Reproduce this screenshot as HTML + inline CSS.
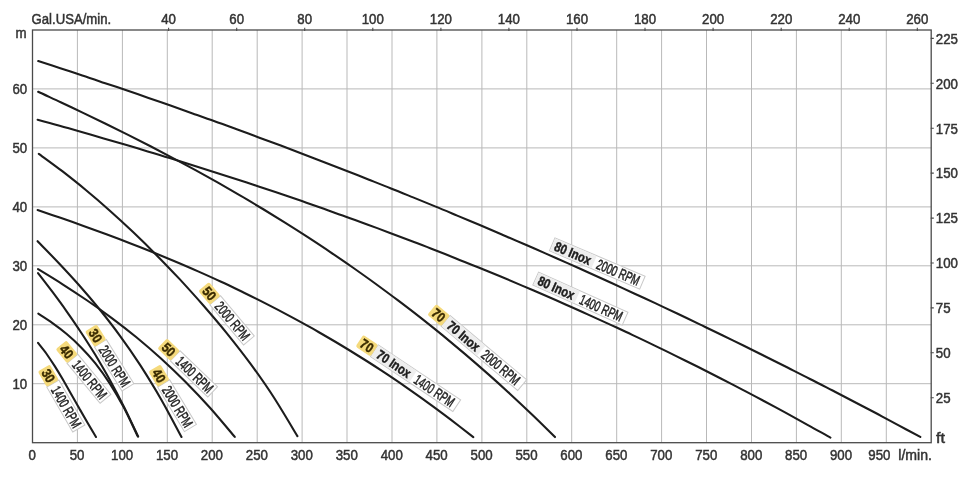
<!DOCTYPE html>
<html><head><meta charset="utf-8"><title>Pump performance curves</title>
<style>
html,body{margin:0;padding:0;background:#fff;}
body{width:970px;height:478px;overflow:hidden;font-family:"Liberation Sans",sans-serif;}
svg{display:block;transform:translateZ(0);will-change:transform;filter:blur(0.3px);}
</style></head><body>
<svg width="970" height="478" viewBox="0 0 970 478">
<rect width="970" height="478" fill="#fff"/>
<path d="M77.4 30.0 V442.7M122.4 30.0 V442.7M167.3 30.0 V442.7M212.2 30.0 V442.7M257.2 30.0 V442.7M302.1 30.0 V442.7M347.0 30.0 V442.7M392.0 30.0 V442.7M436.9 30.0 V442.7M481.9 30.0 V442.7M526.8 30.0 V442.7M571.7 30.0 V442.7M616.7 30.0 V442.7M661.6 30.0 V442.7M706.5 30.0 V442.7M751.5 30.0 V442.7M796.4 30.0 V442.7M841.3 30.0 V442.7M886.3 30.0 V442.7M32.5 383.7 H931.2M32.5 324.8 H931.2M32.5 265.8 H931.2M32.5 206.9 H931.2M32.5 147.9 H931.2M32.5 88.9 H931.2" stroke="#b9b9b9" stroke-width="1" fill="none"/>
<rect x="32.5" y="30.0" width="898.7" height="412.7" fill="none" stroke="#4a4a4a" stroke-width="1.3"/>
<path d="M168.6 27.8 V31.0M236.7 27.8 V31.0M304.7 27.8 V31.0M372.8 27.8 V31.0M440.9 27.8 V31.0M508.9 27.8 V31.0M577.0 27.8 V31.0M645.0 27.8 V31.0M713.1 27.8 V31.0M781.2 27.8 V31.0M849.2 27.8 V31.0M917.3 27.8 V31.0M930.7 397.8 H933.8M930.7 352.8 H933.8M930.7 307.9 H933.8M930.7 263.0 H933.8M930.7 218.1 H933.8M930.7 173.1 H933.8M930.7 128.2 H933.8M930.7 83.3 H933.8M930.7 38.4 H933.8" stroke="#4a4a4a" stroke-width="1.1" fill="none"/>
<g font-family="'Liberation Sans', sans-serif" stroke="#333" stroke-width="0.5">
<text transform="translate(31.6 24.0) scale(0.876 1)" text-anchor="start" font-size="15" fill="#333">Gal.USA/min.</text>
<text transform="translate(168.6 24.0) scale(0.885 1)" text-anchor="middle" font-size="15" fill="#333">40</text>
<text transform="translate(236.7 24.0) scale(0.885 1)" text-anchor="middle" font-size="15" fill="#333">60</text>
<text transform="translate(304.7 24.0) scale(0.885 1)" text-anchor="middle" font-size="15" fill="#333">80</text>
<text transform="translate(372.8 24.0) scale(0.885 1)" text-anchor="middle" font-size="15" fill="#333">100</text>
<text transform="translate(440.9 24.0) scale(0.885 1)" text-anchor="middle" font-size="15" fill="#333">120</text>
<text transform="translate(508.9 24.0) scale(0.885 1)" text-anchor="middle" font-size="15" fill="#333">140</text>
<text transform="translate(577.0 24.0) scale(0.885 1)" text-anchor="middle" font-size="15" fill="#333">160</text>
<text transform="translate(645.0 24.0) scale(0.885 1)" text-anchor="middle" font-size="15" fill="#333">180</text>
<text transform="translate(713.1 24.0) scale(0.885 1)" text-anchor="middle" font-size="15" fill="#333">200</text>
<text transform="translate(781.2 24.0) scale(0.885 1)" text-anchor="middle" font-size="15" fill="#333">220</text>
<text transform="translate(849.2 24.0) scale(0.885 1)" text-anchor="middle" font-size="15" fill="#333">240</text>
<text transform="translate(917.3 24.0) scale(0.885 1)" text-anchor="middle" font-size="15" fill="#333">260</text>
<text transform="translate(26.6 38.4) scale(0.885 1)" text-anchor="end" font-size="15" fill="#333">m</text>
<text transform="translate(27.2 388.8) scale(0.885 1)" text-anchor="end" font-size="15" fill="#333">10</text>
<text transform="translate(27.2 329.9) scale(0.885 1)" text-anchor="end" font-size="15" fill="#333">20</text>
<text transform="translate(27.2 270.9) scale(0.885 1)" text-anchor="end" font-size="15" fill="#333">30</text>
<text transform="translate(27.2 212.0) scale(0.885 1)" text-anchor="end" font-size="15" fill="#333">40</text>
<text transform="translate(27.2 153.0) scale(0.885 1)" text-anchor="end" font-size="15" fill="#333">50</text>
<text transform="translate(27.2 94.0) scale(0.885 1)" text-anchor="end" font-size="15" fill="#333">60</text>
<text transform="translate(32.2 459.6) scale(0.885 1)" text-anchor="middle" font-size="15" fill="#333">0</text>
<text transform="translate(77.1 459.6) scale(0.885 1)" text-anchor="middle" font-size="15" fill="#333">50</text>
<text transform="translate(122.1 459.6) scale(0.885 1)" text-anchor="middle" font-size="15" fill="#333">100</text>
<text transform="translate(167.0 459.6) scale(0.885 1)" text-anchor="middle" font-size="15" fill="#333">150</text>
<text transform="translate(211.9 459.6) scale(0.885 1)" text-anchor="middle" font-size="15" fill="#333">200</text>
<text transform="translate(256.9 459.6) scale(0.885 1)" text-anchor="middle" font-size="15" fill="#333">250</text>
<text transform="translate(301.8 459.6) scale(0.885 1)" text-anchor="middle" font-size="15" fill="#333">300</text>
<text transform="translate(346.7 459.6) scale(0.885 1)" text-anchor="middle" font-size="15" fill="#333">350</text>
<text transform="translate(391.7 459.6) scale(0.885 1)" text-anchor="middle" font-size="15" fill="#333">400</text>
<text transform="translate(436.6 459.6) scale(0.885 1)" text-anchor="middle" font-size="15" fill="#333">450</text>
<text transform="translate(481.6 459.6) scale(0.885 1)" text-anchor="middle" font-size="15" fill="#333">500</text>
<text transform="translate(526.5 459.6) scale(0.885 1)" text-anchor="middle" font-size="15" fill="#333">550</text>
<text transform="translate(571.4 459.6) scale(0.885 1)" text-anchor="middle" font-size="15" fill="#333">600</text>
<text transform="translate(616.4 459.6) scale(0.885 1)" text-anchor="middle" font-size="15" fill="#333">650</text>
<text transform="translate(661.3 459.6) scale(0.885 1)" text-anchor="middle" font-size="15" fill="#333">700</text>
<text transform="translate(706.2 459.6) scale(0.885 1)" text-anchor="middle" font-size="15" fill="#333">750</text>
<text transform="translate(751.2 459.6) scale(0.885 1)" text-anchor="middle" font-size="15" fill="#333">800</text>
<text transform="translate(796.1 459.6) scale(0.885 1)" text-anchor="middle" font-size="15" fill="#333">850</text>
<text transform="translate(841.0 459.6) scale(0.885 1)" text-anchor="middle" font-size="15" fill="#333">900</text>
<text transform="translate(879.4 459.6) scale(0.885 1)" text-anchor="middle" font-size="15" fill="#333">950</text>
<text transform="translate(898.3 459.6) scale(0.940 1)" text-anchor="start" font-size="15" fill="#333">l/min.</text>
<text transform="translate(935.8 403.1) scale(0.885 1)" text-anchor="start" font-size="15" fill="#333">25</text>
<text transform="translate(935.8 358.1) scale(0.885 1)" text-anchor="start" font-size="15" fill="#333">50</text>
<text transform="translate(935.8 313.2) scale(0.885 1)" text-anchor="start" font-size="15" fill="#333">75</text>
<text transform="translate(935.8 268.3) scale(0.885 1)" text-anchor="start" font-size="15" fill="#333">100</text>
<text transform="translate(935.8 223.4) scale(0.885 1)" text-anchor="start" font-size="15" fill="#333">125</text>
<text transform="translate(935.8 178.4) scale(0.885 1)" text-anchor="start" font-size="15" fill="#333">150</text>
<text transform="translate(935.8 133.5) scale(0.885 1)" text-anchor="start" font-size="15" fill="#333">175</text>
<text transform="translate(935.8 88.6) scale(0.885 1)" text-anchor="start" font-size="15" fill="#333">200</text>
<text transform="translate(935.8 43.7) scale(0.885 1)" text-anchor="start" font-size="15" fill="#333">225</text>
<text transform="translate(936.0 443.0) scale(1.080 1)" text-anchor="start" font-size="15" fill="#333">ft</text>
</g>
<path d="M38.2 61.1C41.9 62.3 52.9 65.8 60.3 68.2C67.6 70.6 75.0 73.1 82.3 75.5C89.7 77.9 97.0 80.4 104.4 82.9C111.7 85.3 119.1 87.8 126.4 90.3C133.8 92.8 141.1 95.4 148.5 97.9C155.8 100.4 163.2 103.0 170.5 105.6C177.9 108.2 185.2 110.8 192.6 113.4C199.9 116.0 207.3 118.6 214.6 121.3C222.0 123.9 229.3 126.6 236.7 129.3C244.0 132.0 251.4 134.7 258.7 137.4C266.1 140.1 273.4 142.9 280.8 145.6C288.1 148.4 295.5 151.2 302.8 154.0C310.2 156.8 317.5 159.6 324.9 162.4C332.2 165.3 339.6 168.1 346.9 171.0C354.3 173.9 361.6 176.8 369.0 179.7C376.3 182.6 383.7 185.5 391.0 188.5C398.4 191.4 405.7 194.4 413.1 197.4C420.4 200.4 427.8 203.4 435.1 206.4C442.5 209.4 449.8 212.5 457.2 215.6C464.5 218.6 471.9 221.7 479.2 224.8C486.6 228.0 494.0 231.1 501.3 234.2C508.7 237.4 516.0 240.6 523.4 243.7C530.7 246.9 538.1 250.2 545.4 253.4C552.8 256.6 560.1 259.9 567.5 263.1C574.8 266.4 582.2 269.7 589.5 273.0C596.9 276.3 604.2 279.7 611.6 283.0C618.9 286.4 626.3 289.8 633.6 293.2C641.0 296.6 648.3 300.0 655.7 303.4C663.0 306.9 670.4 310.4 677.7 313.8C685.1 317.3 692.4 320.8 699.8 324.4C707.1 327.9 714.5 331.4 721.8 335.0C729.2 338.6 736.5 342.2 743.9 345.8C751.2 349.4 758.6 353.1 765.9 356.7C773.3 360.4 780.6 364.1 788.0 367.8C795.3 371.5 802.7 375.2 810.0 379.0C817.4 382.7 824.7 386.5 832.1 390.3C839.4 394.1 846.8 397.9 854.1 401.7C861.5 405.6 868.8 409.4 876.2 413.3C883.5 417.2 890.9 421.1 898.2 425.1C905.6 429.0 916.6 435.0 920.3 436.9" stroke="#1c1c1c" stroke-width="2.1" fill="none" stroke-linecap="round" stroke-linejoin="round"/>
<path d="M37.6 119.7C41.3 120.7 52.3 123.7 59.6 125.8C67.0 127.8 74.3 129.9 81.6 132.0C89.0 134.1 96.3 136.2 103.7 138.4C111.0 140.5 118.3 142.7 125.7 144.8C133.0 147.0 140.4 149.2 147.7 151.4C155.1 153.6 162.4 155.8 169.7 158.1C177.1 160.4 184.4 162.6 191.8 164.9C199.1 167.2 206.4 169.6 213.8 171.9C221.1 174.2 228.5 176.6 235.8 179.0C243.1 181.4 250.5 183.8 257.8 186.2C265.2 188.7 272.5 191.1 279.8 193.6C287.2 196.1 294.5 198.6 301.9 201.1C309.2 203.7 316.5 206.2 323.9 208.8C331.2 211.4 338.6 214.0 345.9 216.7C353.3 219.3 360.6 222.0 367.9 224.7C375.3 227.4 382.6 230.1 390.0 232.9C397.3 235.6 404.6 238.4 412.0 241.2C419.3 244.0 426.7 246.8 434.0 249.7C441.3 252.6 448.7 255.5 456.0 258.4C463.4 261.3 470.7 264.3 478.0 267.3C485.4 270.3 492.7 273.3 500.1 276.3C507.4 279.4 514.7 282.5 522.1 285.6C529.4 288.7 536.8 291.9 544.1 295.0C551.5 298.2 558.8 301.4 566.1 304.7C573.5 307.9 580.8 311.2 588.2 314.6C595.5 317.9 602.8 321.2 610.2 324.6C617.5 328.0 624.9 331.4 632.2 334.9C639.5 338.3 646.9 341.8 654.2 345.4C661.6 348.9 668.9 352.5 676.2 356.1C683.6 359.7 690.9 363.3 698.3 367.0C705.6 370.7 712.9 374.4 720.3 378.2C727.6 382.0 735.0 385.8 742.3 389.6C749.7 393.4 757.0 397.3 764.3 401.2C771.7 405.2 779.0 409.1 786.4 413.1C793.7 417.1 801.0 421.2 808.4 425.3C815.7 429.3 826.7 435.6 830.4 437.6" stroke="#1c1c1c" stroke-width="2.1" fill="none" stroke-linecap="round" stroke-linejoin="round"/>
<path d="M38.2 91.8C41.9 93.6 53.2 98.7 60.7 102.2C68.2 105.8 75.6 109.3 83.1 112.9C90.6 116.5 98.1 120.1 105.6 123.7C113.1 127.4 120.6 131.1 128.1 134.9C135.6 138.7 143.1 142.5 150.5 146.3C158.0 150.2 165.5 154.1 173.0 158.1C180.5 162.1 188.0 166.1 195.5 170.2C203.0 174.3 210.5 178.5 218.0 182.7C225.4 187.0 232.9 191.3 240.4 195.7C247.9 200.0 255.4 204.5 262.9 209.0C270.4 213.6 277.9 218.2 285.4 222.9C292.9 227.6 300.3 232.3 307.8 237.2C315.3 242.1 322.8 247.0 330.3 252.1C337.8 257.1 345.3 262.3 352.8 267.5C360.3 272.8 367.8 278.1 375.2 283.5C382.7 289.0 390.2 294.5 397.7 300.2C405.2 305.8 412.7 311.6 420.2 317.4C427.7 323.3 435.2 329.3 442.7 335.4C450.1 341.5 457.6 347.8 465.1 354.1C472.6 360.5 480.1 367.0 487.6 373.6C495.1 380.2 502.6 387.0 510.1 393.9C517.6 400.8 525.0 407.8 532.5 415.0C540.0 422.2 551.3 433.4 555.0 437.1" stroke="#1c1c1c" stroke-width="2.1" fill="none" stroke-linecap="round" stroke-linejoin="round"/>
<path d="M37.6 210.0C41.4 211.3 52.9 215.2 60.5 217.8C68.2 220.5 75.8 223.2 83.5 225.9C91.1 228.6 98.8 231.4 106.4 234.3C114.0 237.1 121.7 240.0 129.3 243.0C137.0 245.9 144.6 248.9 152.3 252.0C159.9 255.1 167.5 258.3 175.2 261.5C182.8 264.7 190.5 268.0 198.1 271.4C205.8 274.8 213.4 278.2 221.1 281.8C228.7 285.3 236.3 289.0 244.0 292.7C251.6 296.4 259.3 300.2 266.9 304.1C274.6 308.0 282.2 312.0 289.8 316.1C297.5 320.2 305.1 324.4 312.8 328.7C320.4 333.1 328.1 337.5 335.7 342.0C343.4 346.6 351.0 351.2 358.6 356.0C366.3 360.7 373.9 365.6 381.6 370.6C389.2 375.7 396.9 380.8 404.5 386.1C412.1 391.4 419.8 396.8 427.4 402.3C435.1 407.8 442.7 413.5 450.4 419.3C458.0 425.2 469.5 434.2 473.3 437.2" stroke="#1c1c1c" stroke-width="2.1" fill="none" stroke-linecap="round" stroke-linejoin="round"/>
<path d="M38.8 153.8C42.7 156.7 54.5 165.2 62.3 171.2C70.1 177.3 78.0 183.5 85.8 190.0C93.7 196.5 101.5 203.2 109.3 210.2C117.2 217.2 125.0 224.4 132.8 231.8C140.7 239.3 148.5 246.9 156.3 254.9C164.2 262.8 172.0 271.0 179.9 279.4C187.7 287.9 195.5 296.5 203.4 305.5C211.2 314.5 219.0 323.6 226.9 333.3C234.7 343.0 242.5 352.9 250.4 363.6C258.2 374.3 266.1 385.4 273.9 397.5C281.7 409.6 293.5 429.7 297.4 436.1" stroke="#1c1c1c" stroke-width="2.1" fill="none" stroke-linecap="round" stroke-linejoin="round"/>
<path d="M38.0 269.1C42.1 271.6 54.4 279.0 62.6 284.3C70.8 289.5 79.0 294.9 87.2 300.5C95.4 306.1 103.6 311.9 111.8 318.1C120.0 324.2 128.2 330.6 136.4 337.3C144.6 344.1 152.8 351.1 161.0 358.5C169.2 366.0 177.4 373.8 185.6 382.0C193.8 390.3 202.0 398.9 210.2 408.0C218.4 417.2 230.7 432.1 234.8 436.9" stroke="#1c1c1c" stroke-width="2.1" fill="none" stroke-linecap="round" stroke-linejoin="round"/>
<path d="M37.6 241.2C41.0 244.8 51.3 255.2 58.2 262.5C65.0 269.7 71.9 277.1 78.7 284.8C85.6 292.6 92.4 300.5 99.3 309.0C106.1 317.4 113.0 326.2 119.8 335.6C126.7 345.0 133.5 354.8 140.4 365.3C147.2 375.9 154.1 387.0 160.9 398.9C167.8 410.9 178.1 430.7 181.5 437.0" stroke="#1c1c1c" stroke-width="2.1" fill="none" stroke-linecap="round" stroke-linejoin="round"/>
<path d="M38.3 313.7C40.7 315.3 47.8 319.7 52.5 323.1C57.3 326.5 62.0 330.0 66.7 334.0C71.5 338.0 76.2 342.3 80.9 347.2C85.7 352.0 90.4 357.2 95.2 363.2C99.9 369.2 104.6 375.6 109.4 382.9C114.1 390.2 118.8 398.1 123.6 407.0C128.3 415.9 135.4 431.5 137.8 436.4" stroke="#1c1c1c" stroke-width="2.1" fill="none" stroke-linecap="round" stroke-linejoin="round"/>
<path d="M38.0 273.1C40.4 276.2 47.5 285.3 52.3 291.7C57.1 298.1 61.9 304.6 66.6 311.3C71.4 318.1 76.2 325.0 80.9 332.2C85.7 339.5 90.5 346.9 95.3 354.8C100.0 362.7 104.8 370.9 109.6 379.5C114.3 388.1 119.1 397.1 123.9 406.6C128.7 416.1 135.8 431.6 138.2 436.6" stroke="#1c1c1c" stroke-width="2.1" fill="none" stroke-linecap="round" stroke-linejoin="round"/>
<path d="M38.0 342.9C39.4 344.7 43.5 349.7 46.3 353.5C49.0 357.4 51.8 361.6 54.6 365.9C57.3 370.2 60.1 374.8 62.9 379.5C65.6 384.2 68.4 389.1 71.1 393.9C73.9 398.8 76.7 403.7 79.4 408.6C82.2 413.5 85.0 418.4 87.7 423.1C90.5 427.9 94.6 434.7 96.0 437.0" stroke="#1c1c1c" stroke-width="2.1" fill="none" stroke-linecap="round" stroke-linejoin="round"/>
<g font-family="'Liberation Sans', sans-serif">
<g transform="translate(48.3 375.7) rotate(60.0)">
<rect x="9.0" y="-7.0" width="52.0" height="14" fill="#fff" stroke="#c9c9c9" stroke-width="1"/>
<rect x="-9.0" y="-7.0" width="18" height="14" rx="2" fill="#f5da7c"/>
<text transform="translate(0 4.8) scale(0.87 1)" text-anchor="middle" font-size="13.5" font-weight="700" fill="#3a2b00" stroke="#3a2b00" stroke-width="0.45">30</text>
<text transform="translate(13.2 5.1) scale(0.665 1)" font-size="14.5" fill="#222" stroke="#222" stroke-width="0.5">1400 RPM</text>
</g>
<g transform="translate(66.7 351.8) rotate(50.5)">
<rect x="9.0" y="-7.0" width="52.0" height="14" fill="#fff" stroke="#c9c9c9" stroke-width="1"/>
<rect x="-9.0" y="-7.0" width="18" height="14" rx="2" fill="#f5da7c"/>
<text transform="translate(0 4.8) scale(0.87 1)" text-anchor="middle" font-size="13.5" font-weight="700" fill="#3a2b00" stroke="#3a2b00" stroke-width="0.45">40</text>
<text transform="translate(13.2 5.1) scale(0.665 1)" font-size="14.5" fill="#222" stroke="#222" stroke-width="0.5">1400 RPM</text>
</g>
<g transform="translate(95.6 335.6) rotate(58.0)">
<rect x="9.0" y="-7.0" width="52.0" height="14" fill="#fff" stroke="#c9c9c9" stroke-width="1"/>
<rect x="-9.0" y="-7.0" width="18" height="14" rx="2" fill="#f5da7c"/>
<text transform="translate(0 4.8) scale(0.87 1)" text-anchor="middle" font-size="13.5" font-weight="700" fill="#3a2b00" stroke="#3a2b00" stroke-width="0.45">30</text>
<text transform="translate(13.2 5.1) scale(0.665 1)" font-size="14.5" fill="#222" stroke="#222" stroke-width="0.5">2000 RPM</text>
</g>
<g transform="translate(159.0 375.7) rotate(59.0)">
<rect x="9.0" y="-7.0" width="52.0" height="14" fill="#fff" stroke="#c9c9c9" stroke-width="1"/>
<rect x="-9.0" y="-7.0" width="18" height="14" rx="2" fill="#f5da7c"/>
<text transform="translate(0 4.8) scale(0.87 1)" text-anchor="middle" font-size="13.5" font-weight="700" fill="#3a2b00" stroke="#3a2b00" stroke-width="0.45">40</text>
<text transform="translate(13.2 5.1) scale(0.665 1)" font-size="14.5" fill="#222" stroke="#222" stroke-width="0.5">2000 RPM</text>
</g>
<g transform="translate(168.7 349.6) rotate(43.9)">
<rect x="9.0" y="-7.0" width="52.0" height="14" fill="#fff" stroke="#c9c9c9" stroke-width="1"/>
<rect x="-9.0" y="-7.0" width="18" height="14" rx="2" fill="#f5da7c"/>
<text transform="translate(0 4.8) scale(0.87 1)" text-anchor="middle" font-size="13.5" font-weight="700" fill="#3a2b00" stroke="#3a2b00" stroke-width="0.45">50</text>
<text transform="translate(13.2 5.1) scale(0.665 1)" font-size="14.5" fill="#222" stroke="#222" stroke-width="0.5">1400 RPM</text>
</g>
<g transform="translate(209.4 293.4) rotate(50.0)">
<rect x="9.0" y="-7.0" width="52.5" height="14" fill="#fff" stroke="#c9c9c9" stroke-width="1"/>
<rect x="-9.0" y="-7.0" width="18" height="14" rx="2" fill="#f5da7c"/>
<text transform="translate(0 4.8) scale(0.87 1)" text-anchor="middle" font-size="13.5" font-weight="700" fill="#3a2b00" stroke="#3a2b00" stroke-width="0.45">50</text>
<text transform="translate(13.2 5.1) scale(0.665 1)" font-size="14.5" fill="#222" stroke="#222" stroke-width="0.5">2000 RPM</text>
</g>
<g transform="translate(366.9 345.7) rotate(33.7)">
<rect x="9.0" y="-7.0" width="99.0" height="14" fill="#fff" stroke="#c9c9c9" stroke-width="1"/>
<rect x="-9.0" y="-7.0" width="18" height="14" rx="2" fill="#f5da7c"/>
<text transform="translate(0 4.8) scale(0.87 1)" text-anchor="middle" font-size="13.5" font-weight="700" fill="#3a2b00" stroke="#3a2b00" stroke-width="0.45">70</text>
<rect x="9.5" y="-6.5" width="46" height="13" fill="#eeeeee"/>
<text transform="translate(13.2 4.8) scale(0.83 1)" font-size="13.5" font-weight="700" fill="#1c1c1c" stroke="#1c1c1c" stroke-width="0.45">70 Inox</text>
<text transform="translate(58.4 5.1) scale(0.665 1)" font-size="14.5" fill="#222" stroke="#222" stroke-width="0.5">1400 RPM</text>
</g>
<g transform="translate(438.7 315.1) rotate(40.0)">
<rect x="9.0" y="-7.0" width="100.0" height="14" fill="#fff" stroke="#c9c9c9" stroke-width="1"/>
<rect x="-9.0" y="-7.0" width="18" height="14" rx="2" fill="#f5da7c"/>
<text transform="translate(0 4.8) scale(0.87 1)" text-anchor="middle" font-size="13.5" font-weight="700" fill="#3a2b00" stroke="#3a2b00" stroke-width="0.45">70</text>
<rect x="9.5" y="-6.5" width="46" height="13" fill="#eeeeee"/>
<text transform="translate(13.2 4.8) scale(0.83 1)" font-size="13.5" font-weight="700" fill="#1c1c1c" stroke="#1c1c1c" stroke-width="0.45">70 Inox</text>
<text transform="translate(58.4 5.1) scale(0.665 1)" font-size="14.5" fill="#222" stroke="#222" stroke-width="0.5">2000 RPM</text>
</g>
<g transform="translate(597.3 263.5) rotate(23.0)">
<rect x="-49.0" y="-7.0" width="98.0" height="14" fill="#fff" stroke="#c9c9c9" stroke-width="1"/>
<rect x="-48.5" y="-6.5" width="45" height="13" fill="#eeeeee"/>
<text transform="translate(-45.8 4.8) scale(0.83 1)" font-size="13.5" font-weight="700" fill="#1c1c1c" stroke="#1c1c1c" stroke-width="0.45">80 Inox</text>
<text transform="translate(0.0 5.1) scale(0.665 1)" font-size="14.5" fill="#222" stroke="#222" stroke-width="0.5">2000 RPM</text>
</g>
<g transform="translate(580.4 298.6) rotate(24.2)">
<rect x="-49.0" y="-7.0" width="98.0" height="14" fill="#fff" stroke="#c9c9c9" stroke-width="1"/>
<rect x="-48.5" y="-6.5" width="45" height="13" fill="#eeeeee"/>
<text transform="translate(-45.8 4.8) scale(0.83 1)" font-size="13.5" font-weight="700" fill="#1c1c1c" stroke="#1c1c1c" stroke-width="0.45">80 Inox</text>
<text transform="translate(0.0 5.1) scale(0.665 1)" font-size="14.5" fill="#222" stroke="#222" stroke-width="0.5">1400 RPM</text>
</g>
</g>
</svg>
</body></html>
